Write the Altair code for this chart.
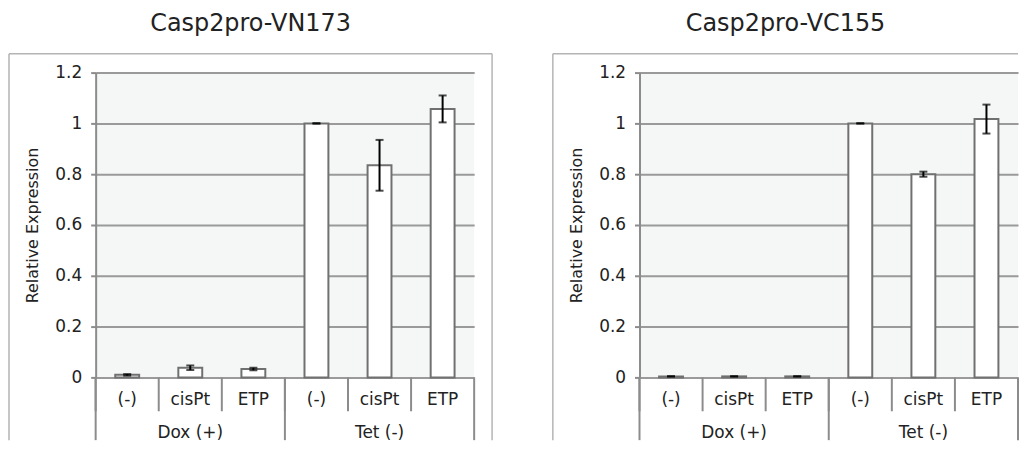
import altair as alt
import pandas as pd

groups = ["Dox (+)", "Dox (+)", "Dox (+)", "Tet (-)", "Tet (-)", "Tet (-)"]
treatments = ["(-)", "cisPt", "ETP", "(-)", "cisPt", "ETP"]
titles = ["Casp2pro-VN173", "Casp2pro-VC155"]
vn173_mean = [0.010, 0.038, 0.033, 1.000, 0.835, 1.057]
vn173_err = [0.003, 0.009, 0.005, 0.001, 0.100, 0.053]
vc155_mean = [0.004, 0.004, 0.004, 1.000, 0.800, 1.017]
vc155_err = [0.001, 0.001, 0.001, 0.001, 0.010, 0.057]
y_ticks = [0, 0.2, 0.4, 0.6, 0.8, 1.0, 1.2]

FONT = "DejaVu Sans"
TXT = "#222222"
LINE = "#8c8c8c"
FRAME = "#b4b4b4"
keys = [f"{g}|{t}" for g, t in zip(groups, treatments)]

W, H = 380, 306
BOTTOM = H + 63


def panel(title, means, errs, right_edge):
    df = pd.DataFrame({"key": keys, "group": groups, "treat": treatments,
                       "mean": means, "err": errs, "idx": list(range(len(keys)))})
    df["lo"] = df["mean"] - df["err"]
    df["hi"] = df["mean"] + df["err"]
    base = alt.Chart(df)
    one = alt.Chart(pd.DataFrame({"a": [0]}))
    xscale = alt.Scale(paddingInner=0, paddingOuter=0)
    xenc = alt.X("key:N", sort=keys, scale=xscale, axis=None)
    yscale = alt.Scale(domain=[0, 1.2], nice=False)
    yaxis = alt.Axis(values=y_ticks, format="~g", grid=True, gridColor="#9a9a9a", gridWidth=2,
                     domainColor=LINE, domainWidth=2, tickColor=LINE, tickSize=5, tickWidth=2,
                     labelFont=FONT, labelFontSize=17, labelColor=TXT, labelPadding=9,
                     titleFont=FONT, titleFontSize=16, titleFontWeight="normal", titleColor=TXT,
                     titlePadding=14)
    ytitle = "Relative Expression"

    layers = []
    layers.append(one.mark_rule(color=FRAME, strokeWidth=1.5).encode(
        x=alt.value(-87), y=alt.value(-19), y2=alt.value(BOTTOM)))
    layers.append(one.mark_rule(color=FRAME, strokeWidth=1.5).encode(
        x=alt.value(-87), x2=alt.value(right_edge), y=alt.value(-19)))
    if right_edge > W:
        layers.append(one.mark_rule(color=FRAME, strokeWidth=1.5).encode(
            x=alt.value(right_edge), y=alt.value(-19), y2=alt.value(BOTTOM)))

    layers.append(base.mark_bar(width=24, fill="white", stroke="#707070", strokeWidth=2).encode(
        x=xenc, y=alt.Y("mean:Q", scale=yscale, axis=yaxis, title=ytitle)))
    layers.append(base.mark_rule(color="black", strokeWidth=2).encode(
        x=xenc, y=alt.Y("lo:Q", scale=yscale, axis=yaxis, title=ytitle), y2="hi:Q"))
    layers.append(base.mark_tick(color="black", size=8, thickness=2, orient="horizontal").encode(
        x=xenc, y=alt.Y("lo:Q", scale=yscale, axis=yaxis, title=ytitle)))
    layers.append(base.mark_tick(color="black", size=8, thickness=2, orient="horizontal").encode(
        x=xenc, y=alt.Y("hi:Q", scale=yscale, axis=yaxis, title=ytitle)))

    layers.append(base.mark_rule(color=LINE, strokeWidth=2).encode(
        x=alt.X("key:N", sort=keys, scale=xscale, axis=None, bandPosition=0),
        y=alt.value(H), y2=alt.value(H + 34)))
    layers.append(base.transform_filter(alt.FieldOneOfPredicate(field="idx", oneOf=[0, 3])).mark_rule(
        color=LINE, strokeWidth=2).encode(
        x=alt.X("key:N", sort=keys, scale=xscale, axis=None, bandPosition=0),
        y=alt.value(H), y2=alt.value(BOTTOM)))
    layers.append(base.transform_filter(alt.FieldOneOfPredicate(field="idx", oneOf=[5])).mark_rule(
        color=LINE, strokeWidth=2).encode(
        x=alt.X("key:N", sort=keys, scale=xscale, axis=None, bandPosition=1),
        y=alt.value(H), y2=alt.value(BOTTOM)))

    layers.append(base.mark_text(font=FONT, fontSize=17, color=TXT, baseline="middle").encode(
        x=xenc, y=alt.value(H + 23), text="treat:N"))
    layers.append(base.transform_filter(alt.FieldOneOfPredicate(field="idx", oneOf=[1, 4])).mark_text(
        font=FONT, fontSize=17, color=TXT, baseline="middle").encode(
        x=xenc, y=alt.value(H + 56), text="group:N"))

    return alt.layer(*layers).properties(
        width=W, height=H,
        title=alt.TitleParams(title, font=FONT, fontSize=24, fontWeight="normal", color=TXT,
                              anchor="middle", frame="bounds", baseline="alphabetic", offset=-2))


chart = alt.hconcat(panel(titles[0], vn173_mean, vn173_err, 398),
                    panel(titles[1], vc155_mean, vc155_err, W), spacing=59).configure_view(
    fill="#f5f7f7", strokeWidth=0).properties(padding={"left": 0, "top": 3, "right": 0, "bottom": 0})

chart.save("out.html", embed_options={"renderer": "svg", "actions": False})
